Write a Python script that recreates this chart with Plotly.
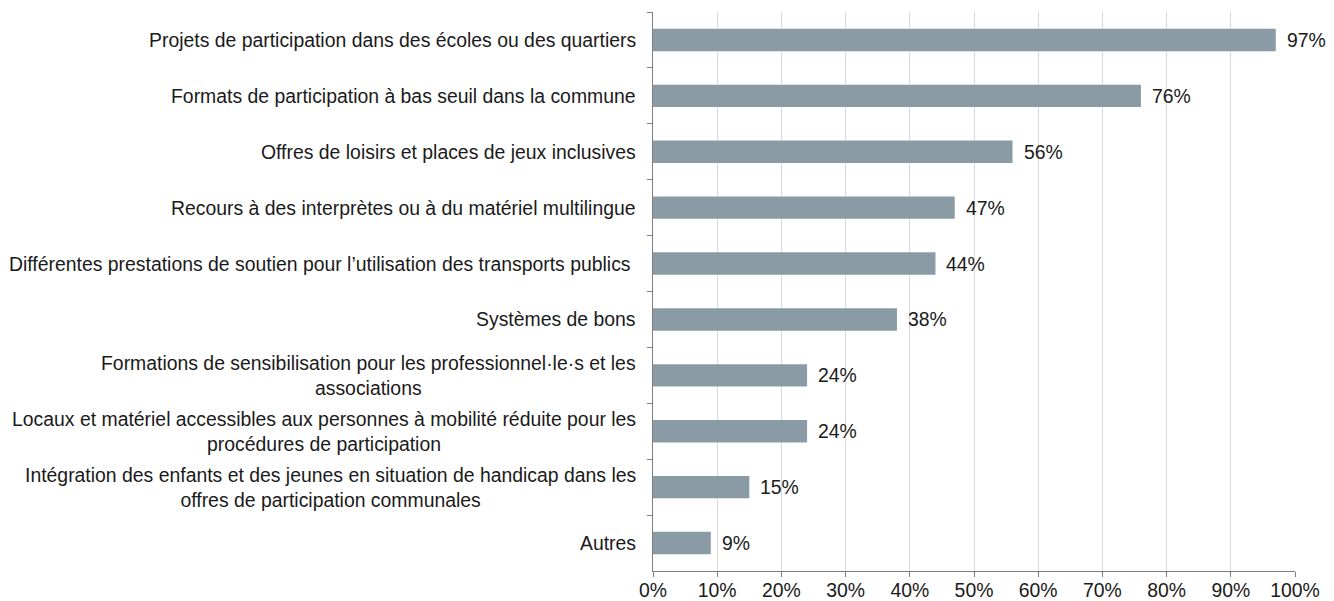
import plotly.graph_objects as go

categories = [
    "Projets de participation dans des écoles ou des quartiers",
    "Formats de participation à bas seuil dans la commune",
    "Offres de loisirs et places de jeux inclusives",
    "Recours à des interprètes ou à du matériel multilingue",
    "Différentes prestations de soutien pour l’utilisation des transports publics ",
    "Systèmes de bons",
    "Formations de sensibilisation pour les professionnel·le·s et les<br>associations",
    "Locaux et matériel accessibles aux personnes à mobilité réduite pour les<br>procédures de participation",
    "Intégration des enfants et des jeunes en situation de handicap dans les<br>offres de participation communales",
    "Autres",
]
values = [97, 76, 56, 47, 44, 38, 24, 24, 15, 9]
x_ticks = list(range(0, 101, 10))
x_tick_labels = [f"{t}%" for t in x_ticks]

FONT = "Liberation Sans, Arial, sans-serif"
TXT = "#1a1a1a"
FS = 19.4

fig = go.Figure(go.Bar(
    x=values, y=categories, orientation="h",
    marker=dict(color="#8A9BA5", line=dict(width=0)),
    hoverinfo="skip",
))

annotations = []
for c, v in zip(categories, values):
    annotations.append(dict(
        x=0, xref="paper", y=c, yref="y", text=c, showarrow=False,
        xanchor="right", yanchor="middle", align="center", xshift=-15,
        font=dict(family=FONT, size=FS, color=TXT),
    ))
    annotations.append(dict(
        x=v, xref="x", y=c, yref="y", text=f"{v}%", showarrow=False,
        xanchor="left", yanchor="middle", xshift=9,
        font=dict(family=FONT, size=FS, color=TXT),
    ))

fig.update_layout(
    width=1318, height=593,
    margin=dict(l=645, r=31, t=4, b=30),
    paper_bgcolor="white", plot_bgcolor="white",
    bargap=0.6,
    showlegend=False,
    font=dict(family=FONT, size=FS, color=TXT),
    annotations=annotations,
    xaxis=dict(
        range=[0, 100], tickvals=x_ticks, ticktext=x_tick_labels,
        showgrid=True, gridcolor="#D9D9D9", gridwidth=1,
        showline=True, linecolor="#7f7f7f", linewidth=1,
        ticks="outside", ticklen=5, tickcolor="#7f7f7f",
        tickfont=dict(family=FONT, size=FS, color=TXT),
        zeroline=False, fixedrange=True, automargin=False,
    ),
    yaxis=dict(
        categoryorder="array", categoryarray=categories,
        autorange="reversed",
        showticklabels=False,
        showline=True, linecolor="#7f7f7f", linewidth=1,
        ticks="outside", ticklen=5, tickcolor="#7f7f7f",
        tickson="boundaries", showgrid=False, zeroline=False,
        fixedrange=True, automargin=False,
    ),
)

try:
    fig.update_xaxes(ticklabelstandoff=-3)
except Exception:
    pass

fig.write_html("out.html")
